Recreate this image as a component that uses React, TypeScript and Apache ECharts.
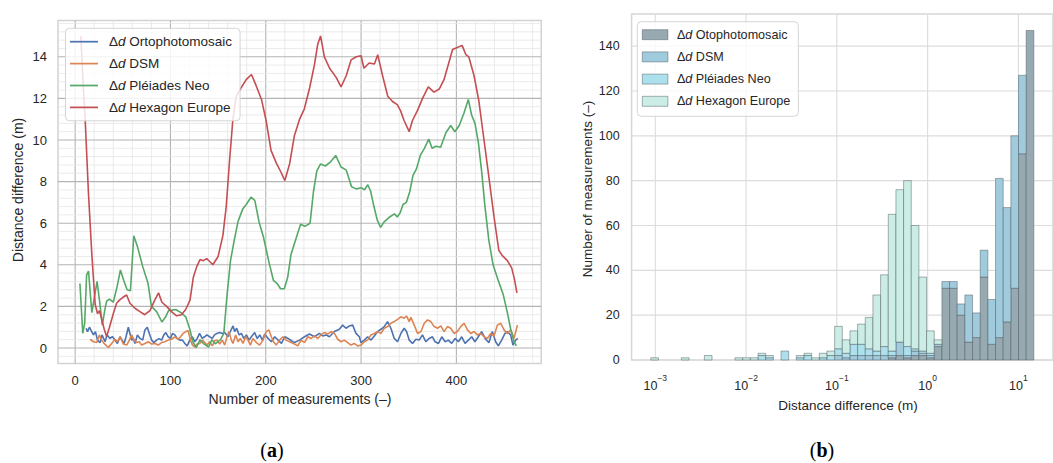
import React, { useEffect, useRef } from 'react';
import * as echarts from 'echarts';

const FONT = '"Liberation Sans", Arial, Helvetica, sans-serif';
const SERIF = '"Liberation Serif", "DejaVu Serif", serif';
const INK = '#262626';

// ---------------- panel (a): line chart ----------------
const A_NAMES = ['Δd Ortophotomosaic', 'Δd DSM', 'Δd Pléiades Neo', 'Δd Hexagon Europe'];
const A_COLORS = ['#4c72b0', '#dd8452', '#55a868', '#c44e52'];
const A_X_TICKS = [0, 100, 200, 300, 400];
const A_Y_TICKS = [0, 2, 4, 6, 8, 10, 12, 14];
const A_X_RANGE = [-18, 489];
const A_Y_RANGE = [-0.75, 15.75];

const ORTHO: [number, number][] = [[11.5,0.95],[13,0.79],[15,1.0],[17.4,0.79],[19.2,0.63],[21.3,0.79],[23.4,0.38],[26.2,0.26],[28.2,0.63],[31.4,0.3],[33.5,0.63],[36.6,0.46],[39,0.55],[41.8,0.38],[44.3,0.22],[47.1,0.54],[49.2,0.38],[51.3,0.22],[53.4,0.54],[55.8,1.0],[57.5,0.7],[59.3,0.38],[61,0.45],[62.8,0.22],[65.3,0.63],[68.1,0.46],[70.9,0.38],[73.2,0.87],[75.7,1.0],[77.8,0.7],[80.2,0.38],[82.7,0.26],[85.4,0.38],[88,0.45],[90.7,0.38],[93.1,0.63],[95.2,0.74],[97.6,0.54],[100,0.46],[102.1,0.7],[104.6,0.63],[107,0.46],[109.8,0.38],[112.6,0.38],[115.1,0.22],[117.5,0.1],[120.3,0.38],[123.1,0.54],[125.5,0.3],[128,0.45],[130.5,0.7],[133.3,0.46],[135.8,0.54],[138.2,0.63],[141.1,0.54],[143.9,0.46],[146.3,0.63],[148.8,0.7],[151.6,0.74],[154.4,0.7],[156.9,0.74],[160.4,0.54],[163.9,0.9],[165.7,1.06],[167.4,0.79],[169.5,0.95],[172,0.63],[174.4,0.7],[176.9,0.46],[179.7,0.63],[182.5,0.38],[184.9,0.54],[188.4,0.74],[190.9,0.46],[193.7,0.63],[196.5,0.38],[198.9,0.67],[202.4,0.46],[205.9,0.3],[209.4,0.54],[212.9,0.38],[216.5,0.22],[219.9,0.54],[223.4,0.46],[226.9,0.35],[230.1,0.26],[235.4,0.38],[240.6,0.54],[245.8,0.67],[251.1,0.54],[256.3,0.7],[259.8,0.58],[263.3,0.63],[266.8,0.54],[272,0.79],[277.2,0.9],[280.7,1.1],[284.2,0.95],[287.7,1.06],[291.2,1.1],[294.7,0.7],[298.2,0.54],[299.9,0.26],[303.4,0.38],[306.9,0.54],[310.4,0.38],[313.9,0.58],[317.3,0.79],[320.8,0.9],[324.3,1.03],[327.8,1.27],[331.3,0.95],[334.8,0.46],[338.3,0.3],[341.8,0.7],[345.2,0.95],[347.7,0.79],[350.5,0.38],[354,0.22],[357.5,0.42],[361,0.38],[364.4,0.63],[367.9,0.3],[371.4,0.46],[374.9,0.54],[377.7,0.3],[381.2,0.22],[384.7,0.54],[388.2,0.3],[391.6,0.38],[395.1,0.22],[398.6,0.46],[402.1,0.3],[405.6,0.54],[409.1,0.22],[412.6,0.38],[416.1,0.54],[419.5,0.3],[423,0.54],[426.5,0.79],[430.7,0.42],[434.2,0.26],[437.7,0.79],[441.2,0.3],[444,0.1],[447.5,0.38],[451,0.7],[453.4,0.79],[456.9,0.63],[459.4,0.14],[462.2,0.38],[464.5,0.46]];

const DSM: [number, number][] = [[15.7,0.42],[19.2,0.3],[22.7,0.26],[25.4,0.63],[27.9,0.38],[30.3,0.22],[33.1,0.1],[34.9,0.03],[38.3,0.22],[41.8,0.42],[44.3,0.3],[47.1,0.54],[50.6,0.19],[54.1,0.14],[56.9,0.38],[59.3,0.63],[61.8,0.38],[64.5,0.26],[67.3,0.3],[69.7,0.14],[73.2,0.22],[76.7,0.3],[80.2,0.19],[83.7,0.22],[87.2,0.14],[90.7,0.26],[94.1,0.3],[97.6,0.38],[101.1,0.42],[104.6,0.54],[108.1,0.42],[110.5,0.54],[113.3,0.7],[116.1,0.79],[118.5,0.83],[121,0.38],[123.1,0.14],[125.5,0.06],[128,0.19],[130.8,0.22],[133.6,0.38],[136,0.26],[138.5,0.14],[141,0.3],[144,0.1],[146.4,0.35],[148.8,0.38],[151.6,0.19],[154.4,0.38],[156.9,0.14],[159.3,0.54],[161.4,0.79],[163.9,0.38],[165.6,0.22],[168.4,0.63],[170.9,0.3],[173.3,0.46],[176.1,0.22],[178.9,0.54],[181.4,0.38],[183.8,0.14],[186.6,0.46],[190.1,0.26],[193.6,0.14],[197.1,0.38],[200.5,0.79],[203.3,0.87],[205.8,0.54],[208.2,0.3],[211,0.14],[214.5,0.38],[218,0.54],[221.4,0.38],[224.9,0.3],[230.1,0.19],[233.6,0.1],[237.1,0.38],[240.6,0.26],[244.1,0.54],[247.6,0.46],[251.1,0.58],[254.5,0.46],[258,0.63],[261.5,0.74],[265,0.67],[268.5,0.79],[272,0.7],[275.5,0.42],[279,0.3],[282.4,0.38],[285.9,0.26],[289.4,0.14],[292.9,0.22],[296.4,0.1],[299.9,0.14],[303.4,0.3],[306.9,0.38],[310.4,0.63],[313.9,0.7],[317.3,0.79],[320.8,0.7],[324.3,0.95],[327.8,1.03],[331.3,1.19],[334.8,1.27],[338.3,1.38],[341.8,1.5],[345.2,1.43],[347.7,1.54],[350.5,1.27],[352.3,1.47],[355.8,1.1],[359.3,0.7],[362.8,0.79],[366.3,1.19],[369.7,1.35],[373.2,1.27],[376.7,1.03],[380.2,0.95],[383.7,1.06],[387.2,0.79],[390.6,1.03],[394.1,0.95],[397.6,0.7],[401.1,0.79],[404.6,1.03],[408.1,1.19],[411.6,0.87],[415.1,0.7],[418.6,0.79],[422.1,0.63],[425.6,0.7],[429.1,0.54],[432.5,0.46],[436,0.7],[439.5,0.58],[443,1.1],[446.5,1.19],[450,0.87],[453.5,0.7],[457,0.87],[460.5,0.46],[464,1.1]];

const PLEIADES: [number, number][] = [[5,3.1],[8,0.7],[10,1.2],[12,3.5],[14,3.7],[17.5,1.7],[20,2.4],[23,3.2],[25.5,2.3],[28.5,1.1],[31,1.8],[33,2.25],[36,2.35],[40,2.2],[44,2.95],[47.5,3.75],[51,3.25],[54.5,2.8],[58,2.75],[61.5,5.4],[65.5,4.85],[71,3.9],[76.5,3.1],[80,2.0],[85.5,1.75],[91,1.25],[95,1.5],[98,1.8],[102,1.82],[105.5,1.85],[111,1.7],[116,1.5],[120,0.95],[123.5,0.3],[127,0.02],[131,0.4],[135,0.2],[140,0.05],[143.5,0.4],[147,0.2],[152.5,0.4],[156,0.7],[159.5,2.6],[163,4.2],[167,5.2],[171,6.1],[176,6.7],[179.5,6.9],[184.5,7.25],[188.5,7.1],[193,6.05],[197.5,5.35],[203,4.2],[208,3.25],[212,3.1],[215.5,2.85],[219.5,2.85],[223,3.4],[226.5,4.5],[232,5.3],[236.5,5.95],[241,5.85],[246.5,6.0],[250,7.5],[253.5,8.5],[257.5,8.85],[262.5,8.75],[268,8.95],[273.5,9.25],[279,8.7],[284.5,8.55],[290,7.75],[295,7.65],[300.5,7.7],[303.5,7.6],[307,7.85],[310,7.55],[313.5,6.8],[317,6.15],[320.5,5.8],[324,6.05],[330,6.3],[335,6.45],[338,6.3],[341,6.5],[344,6.9],[347.5,7.0],[351,7.5],[354.5,8.3],[358,8.6],[362.5,9.3],[366.5,9.6],[371,10.05],[374.5,9.6],[378.5,9.7],[383.5,9.65],[389,10.35],[394,10.7],[398.5,10.4],[403,10.7],[408,11.3],[412.5,11.95],[416,11.2],[419.5,10.8],[423,9.9],[426.5,8.5],[430,6.8],[434,5.2],[438.5,4.0],[443.5,3.3],[449,2.6],[453.5,1.7],[457,0.9],[460.5,0.3],[463,0.1]];

const HEXAGON: [number, number][] = [[6,15.0],[8.5,12.6],[10.5,11.0],[14,7.4],[17.5,4.5],[21,2.1],[23.5,1.65],[25.5,1.8],[28,1.35],[30.5,0.9],[33,0.55],[36,1.0],[40,1.65],[43.5,2.15],[46.5,2.3],[50.5,2.45],[54,2.55],[57.5,2.15],[63,1.9],[68,1.75],[73,1.6],[78.5,1.8],[83.5,2.3],[87.5,2.65],[91,2.2],[96,2.0],[101,1.75],[106.5,1.55],[111.5,1.6],[116,1.85],[120.5,2.3],[124,3.4],[127.5,3.9],[131,4.25],[134.5,4.2],[138,4.3],[144.5,4.0],[150,4.4],[155,5.4],[158.5,6.8],[162,9.0],[165.5,11.0],[169,12.1],[174,12.5],[179.5,12.9],[185,13.15],[190,12.6],[195.5,11.95],[200.5,10.9],[205.5,9.5],[211,8.9],[216,8.45],[220,8.05],[225,8.85],[230,10.2],[235.5,11.0],[240.5,11.5],[246,12.5],[251,13.6],[254.5,14.6],[257.5,15.0],[261.5,14.0],[267,13.45],[274,13.0],[279,12.55],[284.5,13.1],[289.5,13.85],[295,14.0],[300,14.05],[303,13.45],[308.5,13.7],[314,13.65],[317.5,14.1],[322.5,13.1],[328,12.1],[333,11.85],[338,11.7],[341.5,11.4],[345,10.95],[350.5,10.4],[354,10.95],[359,11.4],[364.5,12.0],[370.5,12.55],[376.5,12.3],[382,12.45],[387,12.9],[392,13.7],[396,14.35],[401,14.45],[406,14.55],[410,14.1],[413,14.0],[418.5,13.1],[423.5,11.9],[429,10.0],[434,8.25],[439.5,6.3],[444.5,4.7],[448,4.45],[453.5,4.2],[458,3.85],[461,3.3],[463.5,2.65]];

const A_SERIES = [ORTHO, DSM, PLEIADES, HEXAGON];

// ---------------- panel (b): stacked log histogram ----------------
const B_KEYS = ['bOrtho', 'bDSM', 'bPleiades', 'bHexagon'];
const B_LABELS = ['Δd Otophotomosaic', 'Δd DSM', 'Δd Pléiades Neo', 'Δd Hexagon Europe'];
const B_FILLS = ['#97a9b1', '#a0cbdc', '#ace0ec', '#cbede5'];
const B_EDGE = 'rgba(70,82,88,0.45)';
const B_X_TICKS = [-3, -2, -1, 0, 1]; // decades (log10 m)
const B_Y_TICKS = [0, 20, 40, 60, 80, 100, 120, 140];
const B_X_RANGE = [-3.261, 1.381];
const B_Y_RANGE = [0, 154.35];
const B_BIN_START = -3.05; // log10 of first bin edge
const B_BIN_WIDTH = 0.0844; // bin width in decades

// counts per bin, bottom layer first
const H_ORTHO = [0,0,0,0,0,0,0,0,0,0, 0,0,0,0,0,0,0,0,0,0, 0,0,0,0,0,0,0,0,0,0, 0,1,2,1,2,2,1,6,32,32, 20,8,10,37,7,10,17,32,92,147];
const H_DSM = [0,0,0,0,0,0,0,0,0,0, 0,0,0,0,0,0,0,0,0,0, 0,0,0,0,2,1,2,2,2,2, 2,1,6,1,2,1,1,1,3,3, 5,21,11,12,20,71,51,68,35,0];
const H_PLEIADES = [0,0,0,0,0,0,0,0,0,0, 0,0,0,0,2,1,0,4,0,1, 2,0,1,2,3,2,5,5,3,2, 4,2,0,4,1,1,1,0,0,0, 0,0,0,0,0,0,0,0,0,0];
const H_HEXAGON = [1,0,0,0,1,0,0,2,0,0, 0,1,1,1,1,1,0,0,0,1, 1,1,2,2,10,6,6,9,14,25, 32,61,68,74,55,33,10,2,0,0, 0,0,0,0,0,0,0,0,0,0];
const B_LAYERS = [H_ORTHO, H_DSM, H_PLEIADES, H_HEXAGON];

// ---------------- helpers ----------------
const minorLines = (lo: number, hi: number, step: number, majors: number[]) => {
  const out: number[] = [];
  for (let k = Math.ceil(lo / step); k * step < hi; k++) {
    const v = +(k * step).toFixed(6);
    if (v <= lo) continue;
    if (!majors.some((m) => Math.abs(m - v) < 1e-9)) out.push(v);
  }
  return out;
};

const richName = (label: string) => `{g|Δ}{i|d}{t| ${label.slice(3)}}`;

const gridSeries = (idx: number, xr: number[], yr: number[], xMaj: number[], yMaj: number[], xMin: number[], yMin: number[], majColor: string, minColor: string) => {
  const data: number[][] = [];
  xMaj.forEach((v) => data.push([v, yr[0], 0]));
  xMin.forEach((v) => data.push([v, yr[0], 1]));
  yMaj.forEach((v) => data.push([xr[0], v, 2]));
  yMin.forEach((v) => data.push([xr[0], v, 3]));
  return {
    type: 'custom',
    name: 'grid' + idx,
    xAxisIndex: idx,
    yAxisIndex: idx,
    silent: true,
    z: 1,
    encode: { x: 0, y: 1 },
    data,
    renderItem: (params: any, api: any) => {
      const cs = params.coordSys;
      const kind = api.value(2);
      const pt = api.coord([api.value(0), api.value(1)]);
      const major = kind === 0 || kind === 2;
      const style = { stroke: major ? majColor : minColor, lineWidth: major ? 1.1 : 0.8 };
      if (kind < 2) {
        return { type: 'line', shape: { x1: pt[0], y1: cs.y, x2: pt[0], y2: cs.y + cs.height }, style };
      }
      return { type: 'line', shape: { x1: cs.x, y1: pt[1], x2: cs.x + cs.width, y2: pt[1] }, style };
    },
  };
};

const makeRich = (size: number, padLeft: number) => ({
  g: { fontFamily: FONT, fontSize: size, lineHeight: 14, color: INK, padding: [0, 0, 0, padLeft] },
  i: { fontFamily: FONT, fontSize: size, lineHeight: 14, color: INK, fontStyle: 'italic' },
  t: { fontFamily: FONT, fontSize: size, lineHeight: 14, color: INK },
});

function buildOption() {
  const lineSeries = A_SERIES.map((d, i) => ({
    type: 'line',
    name: A_NAMES[i],
    xAxisIndex: 0,
    yAxisIndex: 0,
    data: d,
    symbol: 'none',
    showSymbol: false,
    z: 2,
    lineStyle: { color: A_COLORS[i], width: 1.6 },
    itemStyle: { color: A_COLORS[i] },
  }));

  const histSeries = B_LAYERS.map((layer, li) => {
    const data: number[][] = [];
    layer.forEach((c, k) => {
      if (c <= 0) return;
      let base = 0;
      for (let j = 0; j < li; j++) base += B_LAYERS[j][k];
      const x0 = B_BIN_START + k * B_BIN_WIDTH;
      data.push([x0, x0 + B_BIN_WIDTH, base, base + c]);
    });
    return {
      type: 'custom',
      name: B_KEYS[li],
      xAxisIndex: 1,
      yAxisIndex: 1,
      z: 2,
      encode: { x: [0, 1], y: [2, 3] },
      itemStyle: { color: B_FILLS[li], borderColor: B_EDGE, borderWidth: 1 },
      data,
      renderItem: (params: any, api: any) => {
        const p0 = api.coord([api.value(0), api.value(3)]);
        const p1 = api.coord([api.value(1), api.value(2)]);
        return {
          type: 'rect',
          shape: { x: p0[0], y: p0[1], width: p1[0] - p0[0], height: p1[1] - p0[1] },
          style: { fill: B_FILLS[li], stroke: B_EDGE, lineWidth: 1 },
        };
      },
    };
  });

  const axisLabel = { fontFamily: FONT, fontSize: 13, color: INK };
  const hidden = { axisLine: { show: false }, axisTick: { show: false }, splitLine: { show: false } };

  return {
    animation: false,
    backgroundColor: '#ffffff',
    grid: [
      { left: 58, top: 20.4, width: 483.2, height: 343.2, show: true, borderColor: '#d2d2d2', borderWidth: 1.5, backgroundColor: 'transparent' },
      { left: 631.6, top: 14, width: 434, height: 346, show: true, borderColor: '#d6d6d6', borderWidth: 1.5, backgroundColor: 'transparent' },
    ],
    xAxis: [
      { type: 'value', gridIndex: 0, min: A_X_RANGE[0], max: A_X_RANGE[1], ...hidden,
        axisLabel: { ...axisLabel, margin: 10, customValues: A_X_TICKS } },
      { type: 'value', gridIndex: 1, min: B_X_RANGE[0], max: B_X_RANGE[1], ...hidden,
        axisLabel: { ...axisLabel, margin: 13, customValues: B_X_TICKS,
          formatter: (v: number) => `{b|10}{s|${v < 0 ? '\u2212' + -v : v}}`,
          rich: {
            b: { fontFamily: FONT, fontSize: 12.5, color: INK, lineHeight: 26 },
            s: { fontFamily: FONT, fontSize: 8.5, color: INK, lineHeight: 9, verticalAlign: 'top' },
          } } },
    ],
    yAxis: [
      { type: 'value', gridIndex: 0, min: A_Y_RANGE[0], max: A_Y_RANGE[1], ...hidden,
        axisLabel: { ...axisLabel, margin: 11, customValues: A_Y_TICKS } },
      { type: 'value', gridIndex: 1, min: B_Y_RANGE[0], max: B_Y_RANGE[1], ...hidden,
        axisLabel: { ...axisLabel, fontSize: 12.5, margin: 12, customValues: B_Y_TICKS } },
    ],
    legend: [
      {
        orient: 'vertical', left: 65.5, top: 28.3, z: 4,
        data: A_NAMES,
        icon: 'rect',
        itemWidth: 28, itemHeight: 1.7, itemGap: 7.9,
        padding: [6.4, 8, 6.4, 4.5],
        backgroundColor: 'rgba(255,255,255,0.82)', borderColor: '#d5d5d5', borderWidth: 1, borderRadius: 4,
        selectedMode: false,
        formatter: (name: string) => richName(name),
        textStyle: { fontFamily: FONT, fontSize: 13.5, color: INK, lineHeight: 14, rich: makeRich(13.5, 6) },
      },
      {
        orient: 'vertical', left: 637.3, top: 21.7, z: 4,
        data: B_KEYS.map((k, i) => ({ name: k, icon: 'rect', itemStyle: { color: B_FILLS[i], borderColor: B_EDGE, borderWidth: 1 } })),
        itemWidth: 25.6, itemHeight: 10, itemGap: 8.2,
        padding: [6, 8, 8, 4.5],
        backgroundColor: 'rgba(255,255,255,0.82)', borderColor: '#d5d5d5', borderWidth: 1, borderRadius: 4,
        selectedMode: false,
        formatter: (name: string) => richName(B_LABELS[B_KEYS.indexOf(name)]),
        textStyle: { fontFamily: FONT, fontSize: 12.6, color: INK, lineHeight: 14, rich: makeRich(12.6, 4) },
      },
    ],
    graphic: [
      { type: 'text', x: 300, y: 399, silent: true,
        style: { text: 'Number of measurements (–)', fontFamily: FONT, fontSize: 14, fill: INK, align: 'center', verticalAlign: 'middle', textAlign: 'center', textVerticalAlign: 'middle' } },
      { type: 'text', x: 18, y: 190, rotation: Math.PI / 2, silent: true,
        style: { text: 'Distance difference (m)', fontFamily: FONT, fontSize: 14, fill: INK, align: 'center', verticalAlign: 'middle', textAlign: 'center', textVerticalAlign: 'middle' } },
      { type: 'text', x: 587, y: 189, rotation: Math.PI / 2, silent: true,
        style: { text: 'Number of measurements (–)', fontFamily: FONT, fontSize: 13.5, fill: INK, align: 'center', verticalAlign: 'middle', textAlign: 'center', textVerticalAlign: 'middle' } },
      { type: 'text', x: 848, y: 405, silent: true,
        style: { text: 'Distance difference (m)', fontFamily: FONT, fontSize: 13.5, fill: INK, align: 'center', verticalAlign: 'middle', textAlign: 'center', textVerticalAlign: 'middle' } },
      { type: 'text', x: 272, y: 450, silent: true,
        style: { text: '({b|a})', fontFamily: SERIF, fontSize: 20, fill: '#000', align: 'center', verticalAlign: 'middle', textAlign: 'center', textVerticalAlign: 'middle',
          rich: { b: { fontFamily: SERIF, fontSize: 20, fontWeight: 'bold', fill: '#000', color: '#000' } } } },
      { type: 'text', x: 822, y: 450, silent: true,
        style: { text: '({b|b})', fontFamily: SERIF, fontSize: 20, fill: '#000', align: 'center', verticalAlign: 'middle', textAlign: 'center', textVerticalAlign: 'middle',
          rich: { b: { fontFamily: SERIF, fontSize: 20, fontWeight: 'bold', fill: '#000', color: '#000' } } } },
    ],
    series: [
      gridSeries(0, A_X_RANGE, A_Y_RANGE, A_X_TICKS, A_Y_TICKS,
        minorLines(A_X_RANGE[0], A_X_RANGE[1], 20, A_X_TICKS), minorLines(A_Y_RANGE[0], A_Y_RANGE[1], 0.4, A_Y_TICKS),
        '#b4b4b4', '#e6e6e6'),
      gridSeries(1, B_X_RANGE, B_Y_RANGE, B_X_TICKS, B_Y_TICKS, [], [], '#dcdcdc', '#dcdcdc'),
      ...lineSeries,
      ...histSeries,
    ],
  };
}

export default function App() {
  const ref = useRef<HTMLDivElement>(null);
  useEffect(() => {
    if (!ref.current) return;
    const chart = echarts.init(ref.current, null, { renderer: 'svg' });
    chart.setOption(buildOption() as any);
    return () => chart.dispose();
  }, []);
  return (
    <div
      ref={ref}
      style={{ position: 'absolute', left: 0, top: 0, width: 1053, height: 463, background: '#ffffff', overflow: 'hidden' }}
    />
  );
}
